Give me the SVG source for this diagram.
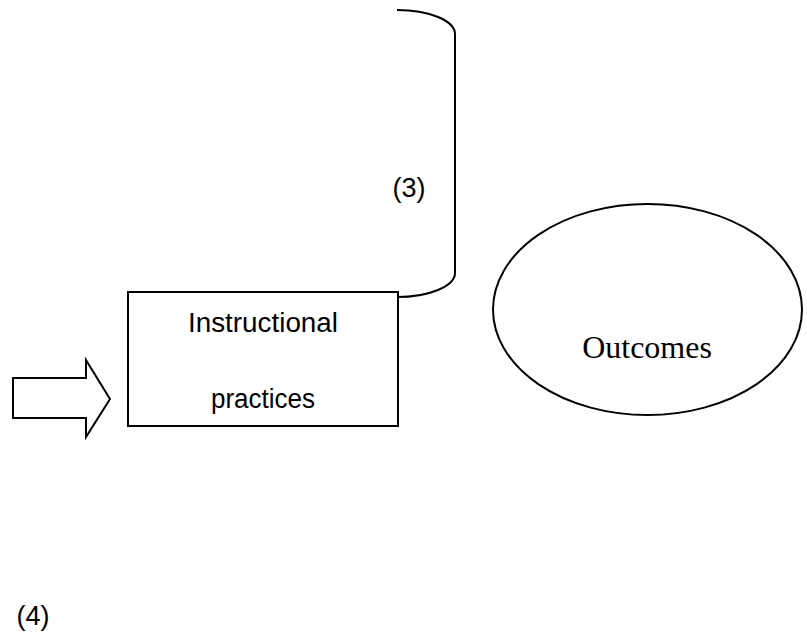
<svg xmlns="http://www.w3.org/2000/svg" width="807" height="634" viewBox="0 0 807 634">
<style>
.s{fill:none;stroke:#000;stroke-width:2}
.b{fill:#fff;stroke:#000;stroke-width:2}
.t{font-family:"Liberation Sans","Open Sans",Arial,sans-serif;font-size:27px;fill:#000;text-anchor:middle}
.r{font-family:"Liberation Serif","Times New Roman",serif;font-size:32px;fill:#000;text-anchor:middle}
</style>
<rect width="807" height="634" fill="#fff"/>
<g id="connectors">
<path id="bracket" class="s" d="M397,10 A58,24 0 0 1 455,34 L455,273 A58,24 0 0 1 397,297"/>
<polygon id="arrow" class="b" points="13,378 86,378 86,360 110,399 86,437 86,418 13,418"/>
</g>
<g id="instructional">
<rect class="b" x="128" y="292" width="270" height="134"/>
<text class="t" x="263" y="332" textLength="150" lengthAdjust="spacingAndGlyphs">Instructional</text>
<text class="t" x="263" y="408" textLength="104" lengthAdjust="spacingAndGlyphs">practices</text>
</g>
<g id="outcomes">
<ellipse class="b" cx="647.5" cy="309.5" rx="154.5" ry="105.5" stroke-width="1.6"/>
<text class="r" x="647" y="358">Outcomes</text>
</g>
<g id="label3"><text class="t" x="409" y="197">(3)</text></g>
<g id="label4"><text class="t" x="33" y="625">(4)</text></g>
</svg>
